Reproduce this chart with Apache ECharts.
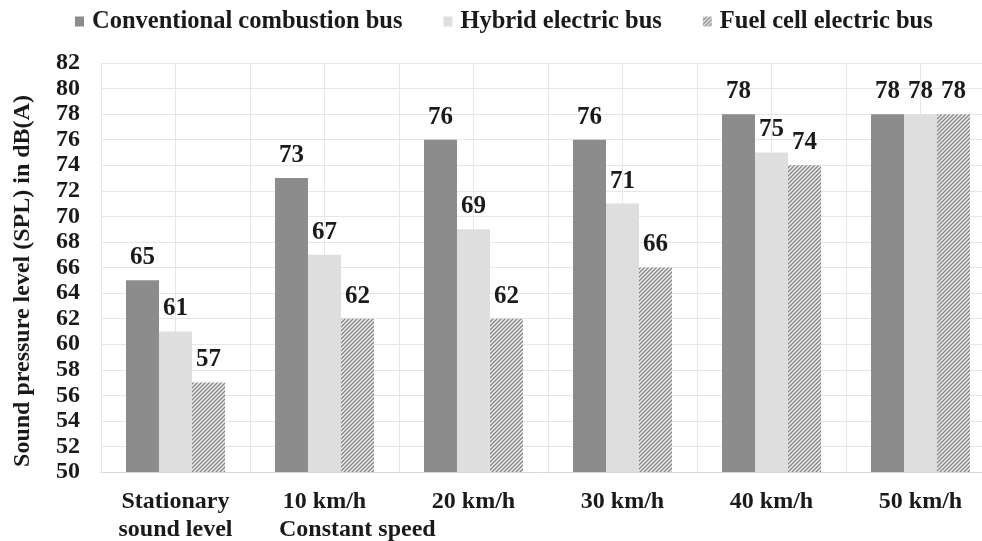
<!DOCTYPE html>
<html>
<head>
<meta charset="utf-8">
<script src="https://cdn.jsdelivr.net/npm/echarts@6/dist/echarts.min.js"></script>
<style>
html,body{margin:0;padding:0;background:#fff;overflow:hidden;width:982px;height:541px;}
#chart{width:982px;height:541px;overflow:hidden;}
</style>
</head>
<body>
<div id="chart"></div>
<script>
var categories = ['Stationary\nsound level', '10 km/h', '20 km/h', '30 km/h', '40 km/h', '50 km/h'];
var seriesNames = ['Conventional combustion bus', 'Hybrid electric bus', 'Fuel cell electric bus'];
var conventional = [65, 73, 76, 76, 78, 78];
var hybrid = [61, 67, 69, 71, 75, 78];
var fuelCell = [57, 62, 62, 66, 74, 78];
var yTitle = 'Sound pressure level (SPL) in dB(A)';
var subNote = 'Constant speed';

var FONT = '"Liberation Serif", "Times New Roman", serif';

function hatchPattern() {
  var c = document.createElement('canvas');
  c.width = 4; c.height = 4;
  var g = c.getContext('2d');
  g.fillStyle = '#eeeeee';
  g.fillRect(0, 0, 4, 4);
  g.strokeStyle = '#858585';
  g.lineWidth = 1.3;
  g.beginPath();
  g.moveTo(-1, 5); g.lineTo(5, -1);
  g.moveTo(-1, 1); g.lineTo(1, -1);
  g.moveTo(3, 5); g.lineTo(5, 3);
  g.stroke();
  return {image: c, repeat: 'repeat'};
}

var chart = echarts.init(document.getElementById('chart'));
var labelStyle = {
  show: true, position: 'top', distance: 10,
  fontFamily: FONT, fontWeight: 'bold', fontSize: 25, color: '#1a1a1a'
};
var colors = ['#8c8c8c', '#dedede', hatchPattern()];
var datas = [conventional, hybrid, fuelCell];

chart.setOption({
  animation: false,
  textStyle: {fontFamily: FONT},
  legend: {
    top: 9, left: 75, padding: 0,
    itemWidth: 9, itemHeight: 10, itemGap: 41,
    icon: 'rect',
    textStyle: {fontFamily: FONT, fontWeight: 'bold', fontSize: 24.5, color: '#1a1a1a', padding: [0, 0, 0, 3]},
    data: seriesNames
  },
  grid: {left: 101, top: 63, width: 894, height: 409, containLabel: false, outerBoundsMode: 'none'},
  xAxis: [{
    type: 'category', data: categories,
    axisLine: {lineStyle: {color: '#d9d9d9'}},
    axisTick: {show: false},
    axisLabel: {interval: 0, fontFamily: FONT, fontWeight: 'bold', fontSize: 24, color: '#1a1a1a', lineHeight: 28, margin: 16}
  }, {
    type: 'value', min: 0, max: 12, interval: 1, position: 'top',
    axisLine: {show: false}, axisTick: {show: false}, axisLabel: {show: false},
    splitLine: {show: true, lineStyle: {color: '#e6e6e6', width: 1}}
  }],
  yAxis: {
    type: 'value', min: 50, max: 82, interval: 2,
    axisLine: {show: false}, axisTick: {show: false},
    axisLabel: {fontFamily: FONT, fontWeight: 'bold', fontSize: 24, color: '#1a1a1a', margin: 21},
    splitLine: {lineStyle: {color: '#e6e6e6', width: 1}}
  },
  series: seriesNames.map(function (n, i) {
    return {
      name: n, type: 'bar', data: datas[i], xAxisIndex: 0,
      barWidth: 33, barGap: '0%',
      itemStyle: {color: colors[i]},
      label: labelStyle
    };
  }),
  graphic: [{
    type: 'text', left: 279, top: 518,
    style: {text: subNote, font: 'bold 24px ' + FONT, fill: '#1a1a1a'}
  }, {
    type: 'text', x: 23, y: 281, rotation: Math.PI / 2,
    style: {text: yTitle, font: 'bold 24px ' + FONT, fill: '#1a1a1a', align: 'center', verticalAlign: 'middle'}
  }]
});
</script>
</body>
</html>
